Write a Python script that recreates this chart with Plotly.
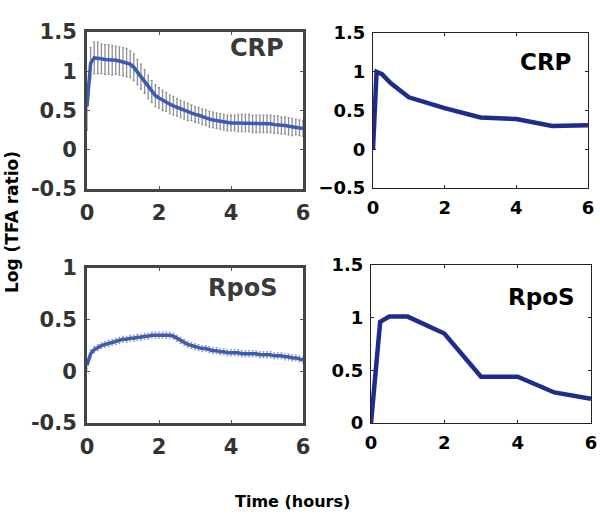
import plotly.graph_objects as go

# ---- data ----
t_fine = [0.0, 0.1, 0.2, 0.3, 0.4, 0.5, 0.6, 0.7, 0.8, 0.9,
          1.0, 1.1, 1.2, 1.3, 1.4, 1.5, 1.6, 1.7, 1.8, 1.9,
          2.0, 2.1, 2.2, 2.3, 2.4, 2.5, 2.6, 2.7, 2.8, 2.9,
          3.0, 3.1, 3.2, 3.3, 3.4, 3.5, 3.6, 3.7, 3.8, 3.9,
          4.0, 4.1, 4.2, 4.3, 4.4, 4.5, 4.6, 4.7, 4.8, 4.9,
          5.0, 5.1, 5.2, 5.3, 5.4, 5.5, 5.6, 5.7, 5.8, 5.9, 6.0]

crp_measured = [0.55, 1.10, 1.17, 1.17, 1.16, 1.15, 1.15, 1.14, 1.14, 1.13,
                1.12, 1.11, 1.09, 1.05, 0.99, 0.93, 0.87, 0.80, 0.74, 0.69,
                0.66, 0.63, 0.61, 0.58, 0.56, 0.54, 0.52, 0.50, 0.48, 0.47,
                0.45, 0.44, 0.42, 0.41, 0.39, 0.38, 0.37, 0.36, 0.35, 0.34,
                0.34, 0.34, 0.34, 0.34, 0.34, 0.34, 0.33, 0.33, 0.33, 0.33,
                0.33, 0.33, 0.32, 0.32, 0.31, 0.31, 0.30, 0.29, 0.29, 0.28, 0.27]
crp_err = [0.30, 0.20, 0.20, 0.20, 0.19, 0.19, 0.19, 0.19, 0.18, 0.18,
           0.18, 0.18, 0.17, 0.17, 0.16, 0.16, 0.15, 0.15, 0.14, 0.14,
           0.13, 0.13, 0.12, 0.12, 0.12, 0.11, 0.11, 0.11, 0.11, 0.10,
           0.10, 0.10, 0.10, 0.10, 0.10, 0.10, 0.10, 0.10, 0.10, 0.10,
           0.10, 0.10, 0.11, 0.11, 0.11, 0.11, 0.11, 0.11, 0.11, 0.11,
           0.11, 0.11, 0.11, 0.11, 0.11, 0.11, 0.11, 0.11, 0.10, 0.10, 0.10]

rpos_measured = [0.06, 0.17, 0.21, 0.23, 0.25, 0.26, 0.27, 0.28, 0.29, 0.30,
                 0.31, 0.31, 0.32, 0.32, 0.33, 0.33, 0.34, 0.34, 0.35, 0.35,
                 0.35, 0.35, 0.35, 0.35, 0.34, 0.32, 0.30, 0.28, 0.26, 0.25,
                 0.24, 0.23, 0.22, 0.22, 0.21, 0.20, 0.20, 0.19, 0.19, 0.18,
                 0.18, 0.18, 0.18, 0.17, 0.17, 0.17, 0.17, 0.17, 0.16, 0.16,
                 0.16, 0.16, 0.15, 0.15, 0.15, 0.14, 0.14, 0.13, 0.13, 0.12, 0.11]
rpos_err = [0.04, 0.04, 0.03, 0.03, 0.03, 0.03, 0.03, 0.03, 0.03, 0.03,
            0.03, 0.03, 0.03, 0.03, 0.03, 0.03, 0.03, 0.03, 0.03, 0.03,
            0.03, 0.03, 0.03, 0.03, 0.03, 0.03, 0.03, 0.03, 0.03, 0.03,
            0.03, 0.03, 0.03, 0.03, 0.03, 0.03, 0.03, 0.03, 0.03, 0.03,
            0.03, 0.03, 0.03, 0.03, 0.03, 0.03, 0.03, 0.03, 0.03, 0.03,
            0.03, 0.03, 0.03, 0.03, 0.03, 0.03, 0.03, 0.03, 0.03, 0.03, 0.03]

t_model_crp = [0, 0.1, 0.25, 0.5, 1, 2, 3, 4, 5, 6]
crp_model = [0, 1.0, 0.97, 0.85, 0.67, 0.53, 0.41, 0.39, 0.30, 0.31]

t_model_rpos = [0, 0.25, 0.5, 1, 2, 3, 4, 5, 6]
rpos_model = [0, 0.96, 1.01, 1.01, 0.85, 0.44, 0.44, 0.29, 0.23]

x_ticks = [0, 2, 4, 6]
x_tick_text = ["0", "2", "4", "6"]

# ---- figure ----
W, H = 600, 515
fig = go.Figure()

def dom_x(a, b):
    return [a / W, b / W]

def dom_y(top, bottom):
    return [1 - bottom / H, 1 - top / H]

def px(x):
    return x / W

def py(y):
    return 1 - y / H

LEFT_BLUE = "#3a5cb4"
RIGHT_BLUE = "#1e2c8e"

fig.add_trace(go.Scatter(x=t_fine, y=crp_measured, mode="lines",
                         line=dict(color=LEFT_BLUE, width=3.5),
                         error_y=dict(type="data", array=crp_err, visible=True,
                                      color="rgba(95,95,95,0.7)", thickness=1.3, width=1),
                         xaxis="x", yaxis="y", showlegend=False))
fig.add_trace(go.Scatter(x=t_model_crp, y=crp_model, mode="lines",
                         line=dict(color=RIGHT_BLUE, width=4.5),
                         xaxis="x2", yaxis="y2", showlegend=False))
fig.add_trace(go.Scatter(x=t_fine, y=rpos_measured, mode="lines",
                         line=dict(color=LEFT_BLUE, width=3.5),
                         error_y=dict(type="data", array=rpos_err, visible=True,
                                      color="rgba(95,95,95,0.55)", thickness=1, width=1),
                         xaxis="x3", yaxis="y3", showlegend=False))
fig.add_trace(go.Scatter(x=t_model_rpos, y=rpos_model, mode="lines",
                         line=dict(color=RIGHT_BLUE, width=4.5),
                         xaxis="x4", yaxis="y4", showlegend=False))

FONT = "DejaVu Sans"
left_font = dict(family=FONT, size=21, color="#333333", weight="bold")
right_font = dict(family=FONT, size=18, color="black", weight="bold")

def ax_left(domain, anchor, rng, tickvals, ticktext):
    return dict(domain=domain, anchor=anchor, range=rng, tickvals=tickvals,
                ticktext=ticktext, automargin=False,
                showgrid=False, zeroline=False, showline=True, linecolor="#444",
                linewidth=3, mirror="ticks", ticks="inside", ticklen=3,
                tickcolor="#555", tickfont=left_font, ticklabelstandoff=3)

def ax_right(domain, anchor, rng, tickvals, ticktext):
    return dict(domain=domain, anchor=anchor, range=rng, tickvals=tickvals,
                ticktext=ticktext, automargin=False,
                showgrid=False, zeroline=False, showline=True, linecolor="#222",
                linewidth=1, mirror="ticks", ticks="inside", ticklen=3,
                tickcolor="#222", tickfont=right_font, ticklabelstandoff=3)

fig.update_layout(
    width=W, height=H, margin=dict(l=0, r=0, t=0, b=0, pad=0),
    paper_bgcolor="white", plot_bgcolor="white",
    xaxis=ax_left(dom_x(87, 303), "y", [0, 6], x_ticks, x_tick_text),
    yaxis=ax_left(dom_y(32, 189), "x", [-0.5, 1.5], [-0.5, 0, 0.5, 1, 1.5],
                  ["-0.5", "0", "0.5", "1", "1.5"]),
    xaxis2=ax_right(dom_x(373, 588), "y2", [0, 6], x_ticks, x_tick_text),
    yaxis2=ax_right(dom_y(33, 188), "x2", [-0.5, 1.5], [-0.5, 0, 0.5, 1, 1.5],
                    ["\u22120.5", "0", "0.5", "1", "1.5"]),
    xaxis3=ax_left(dom_x(87, 303), "y3", [0, 6], x_ticks, x_tick_text),
    yaxis3=ax_left(dom_y(268, 423), "x3", [-0.5, 1], [-0.5, 0, 0.5, 1],
                   ["-0.5", "0", "0.5", "1"]),
    xaxis4=ax_right(dom_x(371, 591), "y4", [0, 6], x_ticks, x_tick_text),
    yaxis4=ax_right(dom_y(265, 423), "x4", [0, 1.5], [0, 0.5, 1, 1.5],
                    ["0", "0.5", "1", "1.5"]),
)

annots = [
    dict(x=4.72, y=1.3, xref="x", yref="y", text="CRP",
         font=dict(family=FONT, size=24, color="#3a3a3a", weight="bold")),
    dict(x=4.8, y=1.13, xref="x2", yref="y2", text="CRP",
         font=dict(family=FONT, size=23, color="black", weight="bold")),
    dict(x=4.33, y=0.81, xref="x3", yref="y3", text="RpoS",
         font=dict(family=FONT, size=24, color="#3a3a3a", weight="bold")),
    dict(x=4.65, y=1.2, xref="x4", yref="y4", text="RpoS",
         font=dict(family=FONT, size=23, color="black", weight="bold")),
    dict(x=px(12), y=py(222), xref="paper", yref="paper", text="Log (TFA ratio)",
         textangle=-90,
         font=dict(family=FONT, size=17, color="black", weight="bold")),
    dict(x=px(292), y=py(501), xref="paper", yref="paper", text="Time (hours)",
         font=dict(family=FONT, size=16, color="black", weight="bold")),
]
for a in annots:
    a["showarrow"] = False
    a["xanchor"] = "center"
    a["yanchor"] = "middle"
fig.update_layout(annotations=annots)

# remove the default page margin so the figure starts at the window's corner
fig.write_html("out.html",
               config={"displayModeBar": False, "staticPlot": True},
               post_script="document.body.style.margin='0px';")
